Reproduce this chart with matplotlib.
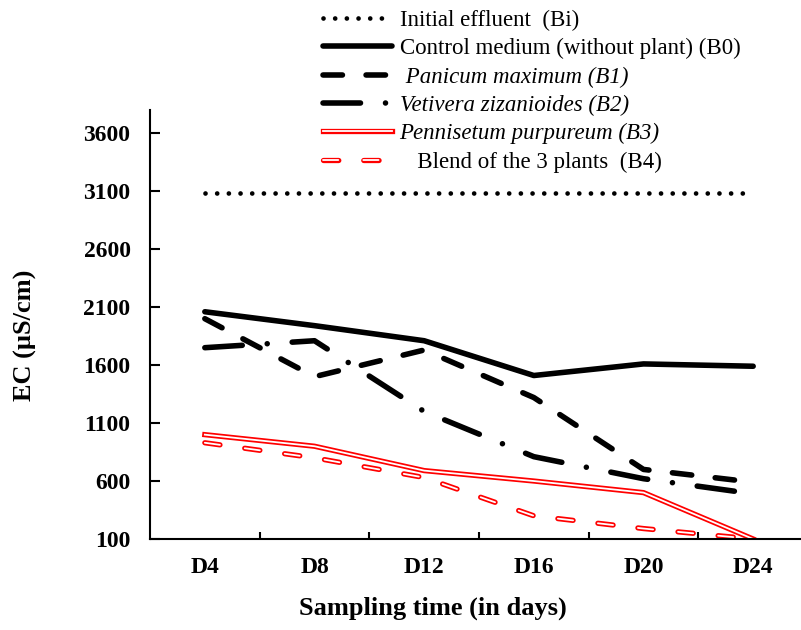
import matplotlib
matplotlib.use("Agg")
import matplotlib.pyplot as plt
import matplotlib.patheffects as pe

plt.rcParams['font.family'] = ['Liberation Serif', 'DejaVu Serif']
plt.rcParams['lines.scale_dashes'] = False

# data
days = ['D4', 'D8', 'D12', 'D16', 'D20', 'D24']
initial = [3080, 3080, 3080, 3080, 3080, 3080]
control = [2060, 1940, 1810, 1510, 1610, 1590]
panicum = [2000, 1500, 1730, 1320, 700, 590]
vetivera = [1750, 1810, 1200, 810, 620, 490]
pennisetum = [1000, 900, 690, 600, 500, 100]
blend = [930, 800, 630, 300, 190, 100]

x = list(range(len(days)))

fig = plt.figure(figsize=(8.01, 6.30), dpi=100)
ax = fig.add_axes([150 / 801, 91 / 630, 658 / 801, 429 / 630])

ax.plot(x, initial, color='black', lw=3.4, linestyle=(0, (0.01, 8.4)),
        dash_capstyle='round', label='Initial effluent  (Bi)')
ax.plot(x, control, color='black', lw=4.0, solid_capstyle='round',
        label='Control medium (without plant) (B0)')
ax.plot(x, panicum, color='black', lw=4.0, linestyle=(0, (14, 17)),
        dash_capstyle='round', label=' Panicum maximum (B1)')
ax.plot(x, vetivera, color='black', lw=4.0, linestyle=(0, (27, 18, 0.01, 18)),
        dash_capstyle='round', label='Vetivera zizanioides (B2)')
ax.plot(x, pennisetum, color='white', lw=1.3,
        path_effects=[pe.Stroke(linewidth=3.8, foreground='red'), pe.Normal()],
        label='Pennisetum purpureum (B3)')
ax.plot(x, blend, color='white', lw=1.3, linestyle=(0, (11, 18)),
        dash_capstyle='round',
        path_effects=[pe.Stroke(linewidth=3.8, foreground='red'), pe.Normal()],
        label='   Blend of the 3 plants  (B4)')

ax.set_xlim(-0.5, 5.5)
ax.set_ylim(100, 3800)
ax.set_yticks(range(100, 3601, 500))
ax.set_xticks(x)
ax.set_xticklabels(days)
ax.set_xticks([i + 0.5 for i in range(5)], minor=True)
ax.tick_params(axis='x', which='major', length=0, pad=13)
ax.tick_params(axis='x', which='minor', direction='in', length=5, width=1.5)
ax.tick_params(axis='y', direction='in', length=7, width=1.5, pad=14)
for lab in ax.get_xticklabels() + ax.get_yticklabels():
    lab.set_fontweight('bold')
    lab.set_fontsize(17)

for s in ['top', 'right']:
    ax.spines[s].set_visible(False)
for s in ['left', 'bottom']:
    ax.spines[s].set_linewidth(1.5)

ax.set_xlabel('Sampling time (in days)', fontsize=19, fontweight='bold')
ax.set_ylabel('EC (µS/cm)', fontsize=19, fontweight='bold')
ax.xaxis.set_label_coords(0.43, -0.135)
ax.yaxis.set_label_coords(-0.172, 0.475)

leg = fig.legend(loc='upper left', bbox_to_anchor=(323 / 801, 1 - 10 / 630),
                 frameon=False, fontsize=16.5, handlelength=3.0, handletextpad=0.34,
                 labelspacing=0.31, borderpad=0, borderaxespad=0)
for i, t in enumerate(leg.get_texts()):
    if i in (2, 3, 4):
        t.set_fontstyle('italic')

fig.savefig('out.png', dpi=100)
